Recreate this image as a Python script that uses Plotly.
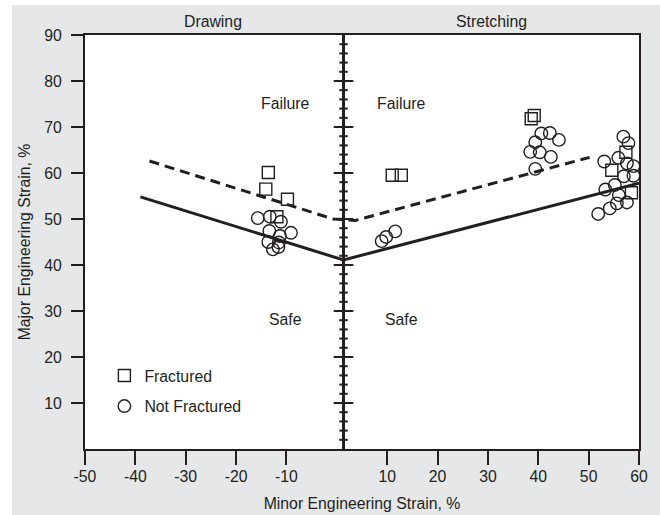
import plotly.graph_objects as go

# ---------------- data ----------------
fractured_x = [-13.6, -14.1, -9.8, -11.9, 11.0, 12.8, 38.6, 39.2, 57.4, 60.5, 54.6, 58.5]
fractured_y = [60.1, 56.5, 54.3, 50.5, 59.5, 59.5, 71.8, 72.5, 64.5, 64.8, 60.6, 55.7]

not_fractured_x = [-15.7, -13.3, -11.1, -9.1, -13.4, -11.3, -13.6, -11.5, -12.7, -11.6,
                   8.9, 9.8, 11.6,
                   40.6, 42.3, 44.1, 39.4, 38.4, 40.3, 42.5, 39.4,
                   53.1, 55.9, 56.9, 57.9, 57.6, 58.9, 57.0, 58.9, 53.3, 55.2, 56.0,
                   57.6, 55.6, 54.2, 51.9]
not_fractured_y = [50.2, 50.5, 49.4, 47.0, 47.4, 46.3, 45.0, 44.9, 43.4, 43.9,
                   45.2, 46.1, 47.3,
                   68.6, 68.7, 67.2, 66.7, 64.6, 64.5, 63.5, 60.9,
                   62.5, 63.3, 67.9, 66.5, 62.1, 61.5, 59.3, 59.4, 56.4, 57.4, 55.2,
                   53.6, 53.4, 52.3, 51.1]

safe_limit_x = [-39.0, 1.33, 60.0]
safe_limit_y = [54.8, 41.1, 57.8]

fail_limit_x = [-37.2, -0.7, 3.7, 50.2]
fail_limit_y = [62.6, 50.0, 49.7, 63.4]

center_x = 1.33
center_major_y = [10, 20, 30, 40, 50, 60, 70, 80]
center_minor_y = [v for v in range(2, 90, 2) if v % 10]

x_ticks = [-50, -40, -30, -20, -10, 10, 20, 30, 40, 50, 60]
x_tick_labels = [str(v) for v in x_ticks]
y_ticks = [10, 20, 30, 40, 50, 60, 70, 80, 90]

INK = "#231f20"
FONT = "Liberation Sans, Arial, sans-serif"
FS = 15.8

fig = go.Figure()

# central (vertical) axis line with its ticks
fig.add_trace(go.Scatter(x=[center_x, center_x], y=[0, 90], mode="lines",
                         line=dict(color=INK, width=3), showlegend=False, hoverinfo="skip"))
fig.add_trace(go.Scatter(x=[center_x] * len(center_minor_y), y=center_minor_y, mode="markers",
                         marker=dict(symbol="line-ew", size=6, line=dict(color=INK, width=2)),
                         showlegend=False, hoverinfo="skip"))
fig.add_trace(go.Scatter(x=[center_x] * len(center_major_y), y=center_major_y, mode="markers",
                         marker=dict(symbol="line-ew", size=14, line=dict(color=INK, width=2)),
                         showlegend=False, hoverinfo="skip"))

# forming limit curves
fig.add_trace(go.Scatter(x=safe_limit_x, y=safe_limit_y, mode="lines",
                         line=dict(color=INK, width=3), showlegend=False))
fig.add_trace(go.Scatter(x=fail_limit_x, y=fail_limit_y, mode="lines",
                         line=dict(color=INK, width=3, dash="10px,6px"), showlegend=False))

# data points
fig.add_trace(go.Scatter(x=fractured_x, y=fractured_y, mode="markers", name="Fractured",
                         marker=dict(symbol="square-open", size=12, color=INK, line=dict(width=1.4)),
                         cliponaxis=False, legendgroup="a"))
fig.add_trace(go.Scatter(x=not_fractured_x, y=not_fractured_y, mode="markers", name="Not Fractured",
                         marker=dict(symbol="circle-open", size=12.5, color=INK, line=dict(width=1.4)),
                         cliponaxis=False, legendgroup="b"))

annots = [
    dict(x=-24.6, y=1.032, xref="x", yref="paper", text="Drawing"),
    dict(x=30.7, y=1.032, xref="x", yref="paper", text="Stretching"),
    dict(x=-10.2, y=75.1, xref="x", yref="y", text="Failure"),
    dict(x=12.75, y=75.1, xref="x", yref="y", text="Failure"),
    dict(x=-10.2, y=28.2, xref="x", yref="y", text="Safe"),
    dict(x=12.75, y=28.2, xref="x", yref="y", text="Safe"),
]
for a in annots:
    a.update(showarrow=False, font=dict(family=FONT, size=FS, color=INK),
             xanchor="center", yanchor="middle")

fig.update_layout(
    width=660, height=515,
    margin=dict(l=85, r=21, t=35, b=66, autoexpand=False),
    paper_bgcolor="#e6e7e8", plot_bgcolor="white",
    font=dict(family=FONT, size=FS, color=INK),
    annotations=annots,
    legend=dict(x=0.035, y=0.218, xanchor="left", yanchor="top",
                bgcolor="rgba(0,0,0,0)", traceorder="grouped", tracegroupgap=7,
                font=dict(family=FONT, size=FS, color=INK)),
    shapes=[
        dict(type="rect", xref="paper", yref="paper", x0=-0.2, x1=(12 - 85) / 554,
             y0=-0.2, y1=1.2, fillcolor="white", line=dict(width=0), layer="below"),
        dict(type="rect", xref="paper", yref="paper", x0=-0.2, x1=1.2,
             y0=(449 - 5) / 414, y1=1.2, fillcolor="white", line=dict(width=0), layer="below"),
    ],
)

fig.update_xaxes(range=[-50, 60], tickvals=x_ticks, ticktext=x_tick_labels,
                 ticks="outside", ticklen=14, tickwidth=2, automargin=False,
                 tickcolor=INK, showline=True, linewidth=2, linecolor=INK, mirror=True,
                 showgrid=False, zeroline=False, ticklabelstandoff=-2,
                 title=dict(text="Minor Engineering Strain, %", standoff=14,
                            font=dict(family=FONT, size=FS, color=INK)))
fig.update_yaxes(range=[0, 90], tickvals=y_ticks, ticks="outside", ticklen=12, tickwidth=2,
                 automargin=False,
                 tickcolor=INK, showline=True, linewidth=2, linecolor=INK, mirror=True,
                 showgrid=False, zeroline=False, ticklabelstandoff=6,
                 title=dict(text="Major Engineering Strain, %", standoff=10,
                            font=dict(family=FONT, size=FS, color=INK)))

fig.write_html("out.html")
